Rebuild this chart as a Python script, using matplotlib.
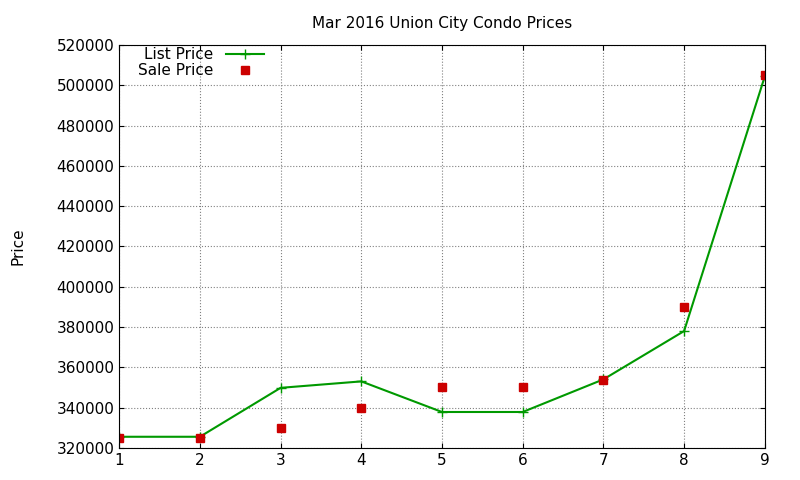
import matplotlib.pyplot as plt

# 値は図から読み取り
x = [1, 2, 3, 4, 5, 6, 7, 8, 9]
list_price = [325500, 325500, 349800, 353000, 337800, 337800, 354000, 378000, 504500]
sale_price = [325000, 325000, 330000, 340000, 350000, 350000, 353500, 390000, 505000]

fig = plt.figure(figsize=(8, 4.8), dpi=100)
ax = fig.add_axes([0.149, 0.067, 0.807, 0.839])
ax.plot(x, list_price, color='#009900', marker='+', markersize=7, linewidth=1.5, label='List Price')
ax.plot(x, sale_price, color='#cc0000', marker='s', markersize=6, linestyle='none', label='Sale Price')
ax.set_xlim(1, 9)
ax.set_ylim(320000, 520000)
ax.set_yticks(range(320000, 520001, 20000))
ax.grid(color='gray', linestyle=':', linewidth=0.8)
ax.tick_params(direction='in', labelsize=11, top=True, right=True)
ax.set_ylabel('Price', fontsize=11, labelpad=22)
ax.set_title('Mar 2016 Union City Condo Prices', fontsize=11, pad=12)
leg = ax.legend(loc='upper left', frameon=False, fontsize=11, markerfirst=False,
                handlelength=2.5, borderaxespad=0.0, labelspacing=0.05, bbox_to_anchor=(0.02, 1.01))
for t in leg.get_texts():
    t.set_ha('right')
plt.savefig('out.png')
